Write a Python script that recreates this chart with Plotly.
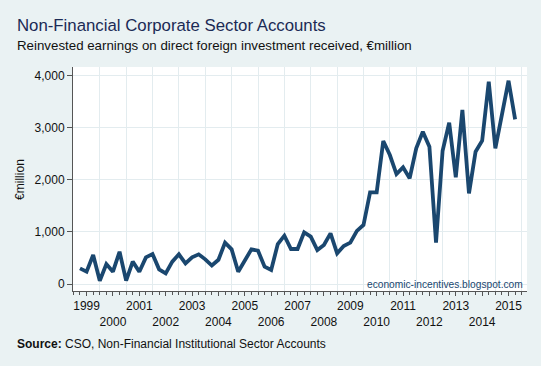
import plotly.graph_objects as go

# Quarterly data 1999Q1 - 2015Q3, €million
start_year = 1999
values = [300, 237, 557, 64, 384, 237, 620, 64, 430, 237,
          512, 576, 282, 205, 430, 570, 397, 512, 570, 474,
          355, 465, 794, 666, 237, 461, 666, 640, 333, 269,
          768, 928, 672, 672, 992, 909, 653, 749, 973, 589,
          730, 794, 1020, 1133, 1760, 1760, 2746, 2477, 2112, 2240,
          2029, 2605, 2925, 2637, 794, 2560, 3098, 2048, 3341, 1741,
          2541, 2752, 3885, 2605, 3245, 3904, 3162]
years = list(range(1999, 2016))
y_ticks = [0, 1000, 2000, 3000, 4000]

x = [start_year + i / 4 for i in range(len(values))]
label_pos = [y + 0.25 for y in years]
label_text = [str(y) if i % 2 == 0 else "<br>" + str(y) for i, y in enumerate(years)]
grid_pos = [y + 0.75 for y in years]

BG = "#EAF2F3"
GRID = "#E3ECEF"
NAVY = "#1A476F"
FONT = "Arial, Liberation Sans, sans-serif"

fig = go.Figure()
fig.add_trace(go.Scatter(x=x, y=values, mode="lines",
                         line=dict(color=NAVY, width=3.8),
                         hoverinfo="skip", showlegend=False))

xr = [1998.735, 2015.95]
fig.update_layout(
    width=541, height=366,
    margin=dict(l=73, r=14, t=67, b=75),
    paper_bgcolor=BG, plot_bgcolor="white",
    font=dict(family=FONT, size=12, color="#111111"),
    showlegend=False,
    xaxis=dict(range=xr, tickmode="array", tickvals=label_pos, ticktext=label_text,
               tickangle=0, automargin=False,
               showgrid=False, zeroline=False, ticks="outside", ticklen=4,
               tickcolor="#555555", showline=True, linecolor="#555555", linewidth=1,
               tickfont=dict(size=12, color="#111111"),
               minor=dict(tickmode="array", tickvals=grid_pos, showgrid=True,
                          gridcolor=GRID, gridwidth=1.3, ticks="")),
    xaxis2=dict(range=xr, overlaying="x", matches="x", side="bottom",
                automargin=False,
                showgrid=False, zeroline=False, showticklabels=False,
                ticks="outside", ticklen=3, tickcolor="#555555",
                tickmode="linear", tick0=1999, dtick=0.25, showline=False),
    yaxis=dict(range=[-134, 4167], tickvals=y_ticks, tickformat=",",
               automargin=False,
               showgrid=True, gridcolor=GRID, gridwidth=1.3, zeroline=False,
               ticks="outside", ticklen=5, tickcolor="#555555",
               showline=True, linecolor="#555555", linewidth=1,
               tickfont=dict(size=12, color="#111111")),
)

fig.add_trace(go.Scatter(x=[x[0]], y=[values[0]], xaxis="x2", mode="markers",
                         marker=dict(opacity=0), hoverinfo="skip", showlegend=False))

ann = [
    dict(text="Non-Financial Corporate Sector Accounts", x=-0.1278, y=1.185,
         font=dict(size=16.8, color="#1B2A55")),
    dict(text="Reinvested earnings on direct foreign investment received, €million",
         x=-0.1278, y=1.097, font=dict(size=13.3, color="#111111")),
    dict(text="<b>Source:</b> CSO, Non-Financial Institutional Sector Accounts",
         x=-0.1278, y=-0.236, font=dict(size=12, color="#111111")),
]
for a in ann:
    fig.add_annotation(xref="paper", yref="paper", xanchor="left", yanchor="middle",
                       showarrow=False, **a)
fig.add_annotation(text="€million", xref="paper", yref="paper", x=-0.117, y=0.5,
                   textangle=-90, showarrow=False, xanchor="center", yanchor="middle",
                   font=dict(size=12, color="#111111"))
fig.add_annotation(text="economic-incentives.blogspot.com", xref="paper", yref="paper",
                   x=0.995, y=0.031, xanchor="right", yanchor="middle", showarrow=False,
                   font=dict(size=10.2, color=NAVY))

fig.write_html("out.html", config={"displayModeBar": False},
               post_script="document.body.style.margin='0';document.body.style.background='%s';" % BG)
